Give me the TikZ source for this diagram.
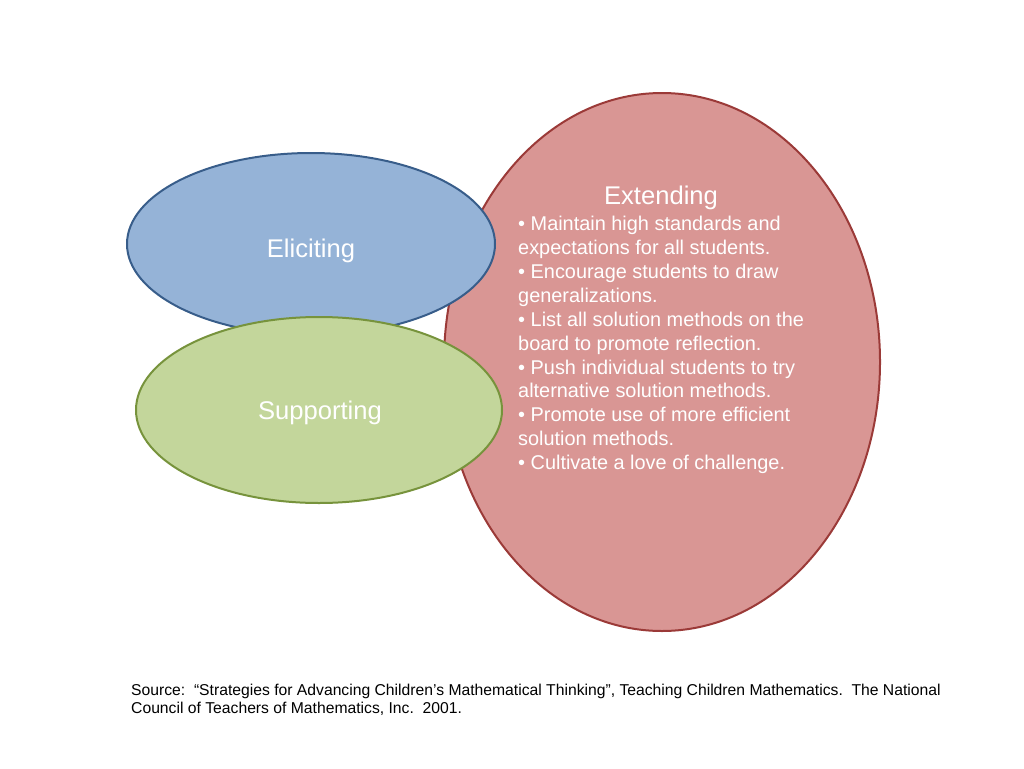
\documentclass[tikz,border=0pt]{standalone}
\usepackage{fontspec}
\setmainfont{Liberation Sans}
\usetikzlibrary{shapes.geometric}

\definecolor{extfill}{HTML}{D99694}
\definecolor{extline}{HTML}{9B3A38}
\definecolor{elifill}{HTML}{95B3D7}
\definecolor{eliline}{HTML}{385D8A}
\definecolor{supfill}{HTML}{C3D69B}
\definecolor{supline}{HTML}{77933C}

\tikzset{
  bubble/.style={ellipse, line width=2pt, inner sep=0pt},
  bubbletext/.style={text=white, font=\fontsize{25.6}{30}\selectfont},
  listtext/.style={text=white, align=left, anchor=north west, font=\fontsize{19.9}{23.9}\selectfont}
}

\begin{document}
\begin{tikzpicture}[x=1pt, y=-1pt]

		\useasboundingbox (0,0) rectangle (1024,768);

		% the three circles
		\node[bubble, draw=extline, fill=extfill, minimum width=436pt, minimum height=538pt] (extending) at (662,362) {};
		\node[bubble, draw=eliline, fill=elifill, minimum width=368pt, minimum height=182pt] (eliciting) at (311,244) {};
		\node[bubble, draw=supline, fill=supfill, minimum width=366pt, minimum height=186pt] (supporting) at (319,410) {};

		\node[bubbletext] (elicitingtext) at (311,251) {Eliciting};
		\node[bubbletext] (supportingtext) at (320,413) {Supporting};
		\node[bubbletext] (extendingtext) at (661,198) {Extending};

		\node[listtext, inner sep=0pt] (extendinglist) at (518,216) {
			• Maintain high standards and\\
			expectations for all students.\\
			• Encourage students to draw\\
			generalizations.\\
			• List all solution methods on the\\
			board to promote reflection.\\
			• Push individual students to try\\
			alternative solution methods.\\
			• Promote use of more efficient\\
			solution methods.\\
			• Cultivate a love of challenge.
		};

		% reference
		\node[align=left, anchor=base west, inner sep=0pt, font=\fontsize{15.7}{17.3}\selectfont] (source) at (131,713) {
			Source:\ \ “Strategies for Advancing Children’s Mathematical Thinking”, Teaching Children Mathematics.\ \ The National\\
			Council of Teachers of Mathematics, Inc.\ \ 2001.
		};

	\end{tikzpicture}
\end{document}
